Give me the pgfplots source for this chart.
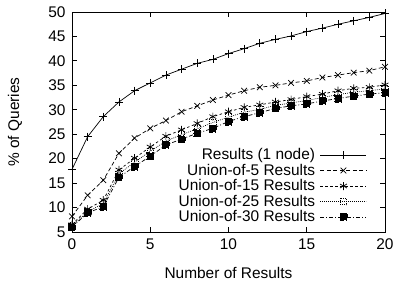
\documentclass[border=0pt]{standalone}
\usepackage{pgfplots}
\pgfplotsset{compat=1.18}
\usepackage{fontspec}
\setmainfont{Liberation Sans}
\begin{document}
\begin{tikzpicture}[x=1bp,y=1bp]
\begin{axis}[
  at={(0bp,0bp)}, anchor=origin,
  scale only axis, width=313bp, height=220bp,
  xmin=0, xmax=20, ymin=5, ymax=50,
  xtick={0,5,10,15,20}, ytick={5,10,...,50},
  tick align=inside, major tick length=5bp,
  axis line style={line width=0.9bp},
  every tick/.style={black, line width=0.8bp},
  font=\fontsize{15.5}{18}\selectfont,
  /pgf/number format/assume math mode=true,
  xticklabel style={yshift=-3bp},
  yticklabel style={xshift=-3bp},
  xlabel={Number of Results}, ylabel={\% of Queries},
  xlabel style={at={(axis description cs:0.5,-0.186)}, anchor=center},
  ylabel style={at={(axis description cs:-0.182,0.5)}, anchor=center},
  legend cell align=right,
  legend plot pos=right,
  legend style={draw=none, fill=none, at={(0.952,0.39)}, anchor=north east,
    font=\fontsize{15.5}{18}\selectfont, row sep=2.2bp,
    nodes={inner xsep=5bp, inner ysep=0.3bp}},
  legend image code/.code={\draw[mark repeat=2,mark phase=2] plot coordinates {(0bp,0bp)(23bp,0bp)(46bp,0bp)};},
  every axis plot/.append style={black, line width=0.7bp, mark options={solid, line width=0.7bp}},
]
\addplot[solid, mark=+, mark size=4bp] coordinates {
(0,17.8)(1,24.5)(2,28.6)(3,31.6)(4,33.9)(5,35.5)(6,37.1)(7,38.3)(8,39.5)(9,40.3)(10,41.5)
(11,42.5)(12,43.6)(13,44.4)(14,45.1)(15,46.0)(16,46.7)(17,47.5)(18,48.2)(19,48.9)(20,49.7)};
\addlegendentry{Results (1 node)}
\addplot[dash pattern=on 4bp off 2.5bp, mark=x, mark size=4bp] coordinates {
(0,8.2)(1,12.5)(2,15.6)(3,21.1)(4,24.2)(5,26.2)(6,27.8)(7,29.6)(8,30.8)(9,32.0)(10,33.0)
(11,33.9)(12,34.6)(13,35.0)(14,35.5)(15,35.9)(16,36.6)(17,37.1)(18,37.6)(19,38.0)(20,38.8)};
\addlegendentry{Union-of-5 Results}
\addplot[dash pattern=on 2.5bp off 2.5bp, mark=asterisk, mark size=4bp] coordinates {
(0,6.5)(1,9.7)(2,11.5)(3,17.7)(4,20.1)(5,22.4)(6,24.6)(7,25.9)(8,27.2)(9,28.6)(10,29.6)
(11,30.5)(12,31.0)(13,31.6)(14,32.1)(15,32.7)(16,33.2)(17,33.9)(18,34.4)(19,34.6)(20,35.1)};
\addlegendentry{Union-of-15 Results}
\addplot[dash pattern=on 0.8bp off 1.2bp, mark=square, mark size=3.3bp, mark options={fill=white}] coordinates {
(0,6.2)(1,9.2)(2,10.8)(3,16.9)(4,19.3)(5,21.5)(6,23.6)(7,24.9)(8,26.1)(9,27.4)(10,28.5)
(11,29.5)(12,30.1)(13,30.9)(14,31.4)(15,31.9)(16,32.5)(17,33.1)(18,33.6)(19,33.9)(20,34.3)};
\addlegendentry{Union-of-25 Results}
\addplot[dash pattern=on 4bp off 2bp on 1bp off 2bp, mark=square*, mark size=3.5bp, mark options={fill=black}] coordinates {
(0,6.0)(1,8.9)(2,10.2)(3,16.2)(4,18.4)(5,20.5)(6,22.8)(7,24.0)(8,25.2)(9,26.2)(10,27.6)
(11,28.6)(12,29.4)(13,30.3)(14,30.8)(15,31.2)(16,31.8)(17,32.3)(18,32.8)(19,33.2)(20,33.5)};
\addlegendentry{Union-of-30 Results}
\end{axis}
\pgfresetboundingbox
\path[use as bounding box] (-72bp,-51bp) rectangle (323bp,232bp);
\end{tikzpicture}
\end{document}
